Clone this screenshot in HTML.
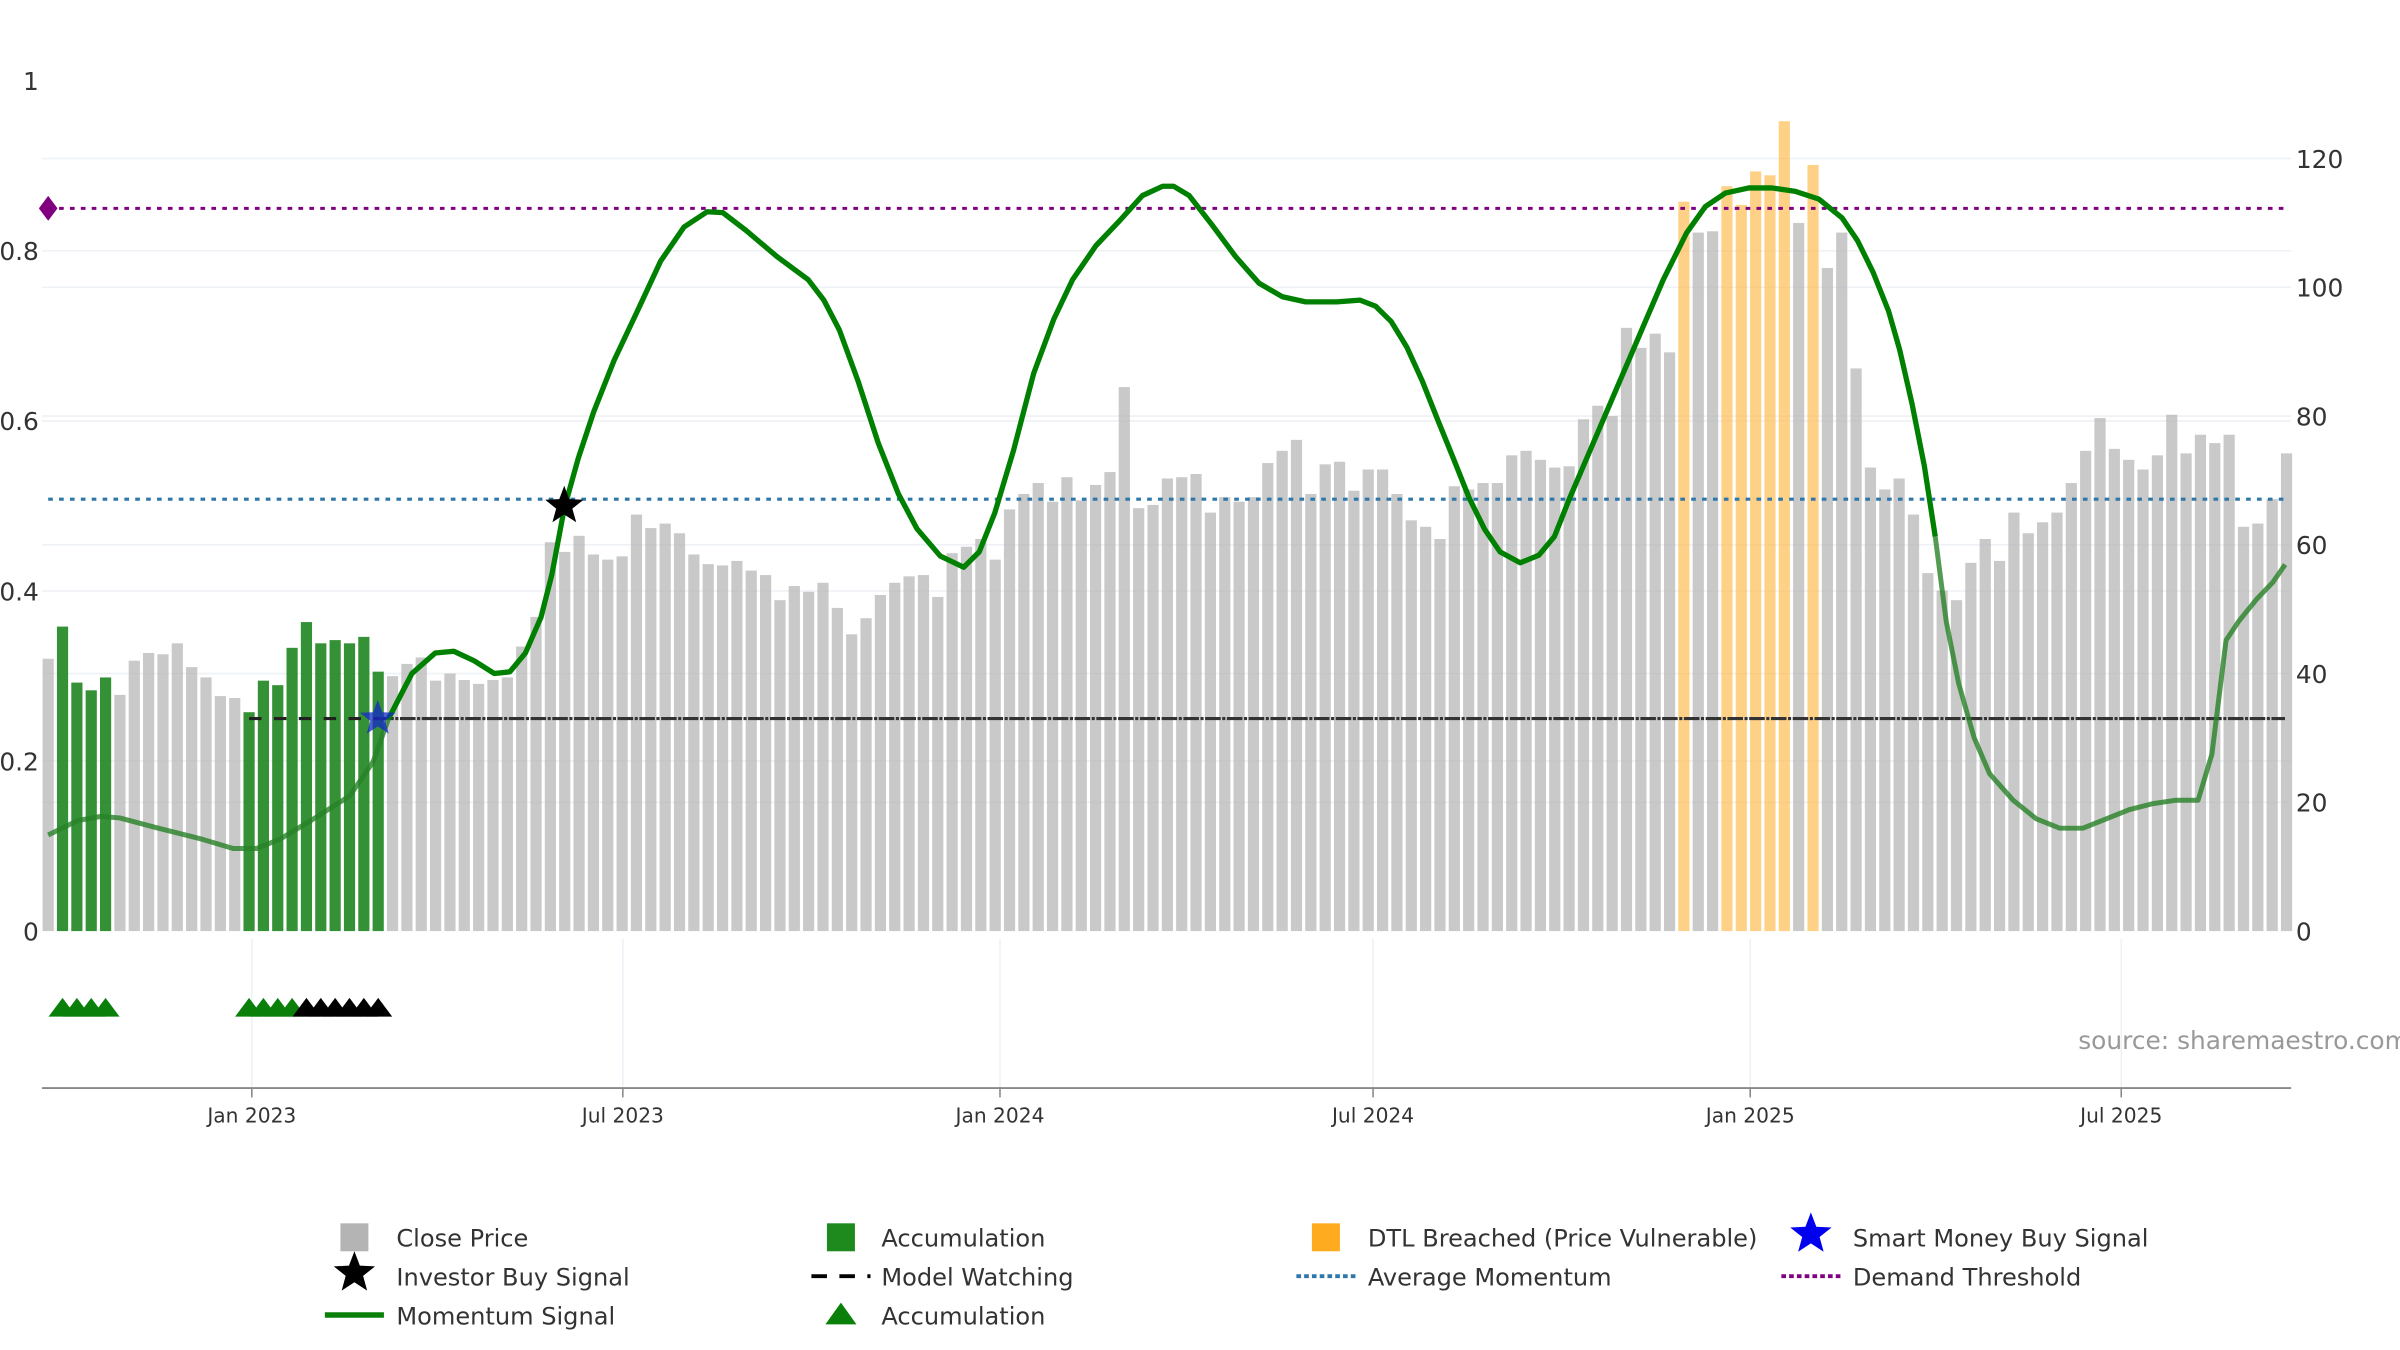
<!DOCTYPE html>
<html><head><meta charset="utf-8"><style>
html,body{margin:0;padding:0;background:#fff;width:2400px;height:1350px;overflow:hidden}
svg{display:block;font-family:"DejaVu Sans","Liberation Sans",sans-serif}
</style></head><body>
<svg id="chart" width="2400" height="1350" viewBox="0 0 1544 868.5" preserveAspectRatio="none" xmlns="http://www.w3.org/2000/svg">
<g id="grid"></g>
<g id="bars"></g>
<g id="hlines"></g>
<g id="line"></g>
<g id="marks"></g>
<g id="axes"></g>
<text x="1337" y="675" font-size="16" fill="#999">source: sharemaestro.com</text>
<g id="legend"></g>
</svg>
<script>
const closePrices=[42.3,47.3,38.6,37.4,39.4,36.7,42,43.2,43,44.7,41,39.4,36.5,36.2,34,38.9,38.2,44,48,44.7,45.2,44.7,45.7,40.3,39.6,41.5,42.5,38.9,40,39,38.4,39,39.4,44.2,48.8,60.4,58.9,61.4,58.5,57.7,58.2,64.7,62.6,63.3,61.8,58.5,57,56.8,57.5,56,55.3,51.4,53.6,52.7,54.1,50.2,46.1,48.6,52.2,54.1,55.1,55.3,51.9,58.7,59.7,60.9,57.7,65.5,67.9,69.6,66.7,70.5,66.9,69.3,71.3,84.5,65.7,66.2,70.3,70.5,71,65,67.4,66.7,67.4,72.7,74.6,76.3,67.9,72.5,72.9,68.4,71.7,71.7,67.9,63.8,62.8,60.9,69.1,68.6,69.6,69.6,73.9,74.6,73.2,72,72.2,79.5,81.6,80,93.7,90.6,92.8,89.9,113.3,108.5,108.7,115.7,112.8,118,117.4,125.8,110,119,103,108.5,87.4,72,68.6,70.3,64.7,55.6,52.9,51.4,57.2,60.9,57.5,65,61.8,63.5,65,69.6,74.6,79.7,74.9,73.2,71.7,73.9,80.2,74.2,77.1,75.8,77.1,62.8,63.3,67.1,74.2];
const accumulationWeeks=[1,2,3,4,14,15,16,17,18,19,20,21,22,23];
const dtlWeeks=[114,117,118,119,120,121,123];
const momentumWeek=[0,2.06,3.68,4.98,7.48,10.73,12.89,14.52,16.14,18.31,21.02,22.64,23.73,25.35,26.97,28.28,29.68,31.09,32.17,33.26,34.34,35.1,35.97,36.94,38.03,39.43,41.06,42.68,44.31,45.93,47.02,48.64,50.81,52.98,54.06,55.14,56.44,57.85,59.26,60.56,62.18,63.81,64.89,65.97,67.27,68.68,70.09,71.39,73.02,74.64,76.27,77.68,78.43,79.52,81.14,82.77,84.39,86.02,87.64,89.81,91.43,92.52,93.6,94.68,95.77,96.85,97.93,99.02,100.1,101.18,102.59,103.89,104.98,106.06,107.68,109.31,110.93,112.56,114.18,115.48,116.89,118.52,120.14,121.77,123.39,125.02,126.1,127.18,128.27,129.03,129.9,130.76,131.52,132.28,133.15,134.23,135.31,136.94,138.56,140.19,141.81,143.44,145.06,146.69,148.31,149.83,150.8,151.78,152.65,153.95,155.03,155.9];
const momentumVal=[0.113,0.130,0.135,0.133,0.122,0.108,0.097,0.097,0.108,0.130,0.159,0.199,0.250,0.303,0.327,0.329,0.318,0.303,0.305,0.327,0.369,0.419,0.497,0.556,0.611,0.671,0.729,0.788,0.828,0.846,0.845,0.824,0.793,0.766,0.742,0.707,0.647,0.574,0.514,0.473,0.441,0.428,0.446,0.492,0.565,0.656,0.720,0.766,0.806,0.835,0.865,0.876,0.876,0.865,0.830,0.793,0.762,0.746,0.740,0.740,0.742,0.735,0.717,0.687,0.647,0.601,0.556,0.510,0.473,0.446,0.433,0.442,0.464,0.510,0.574,0.638,0.702,0.766,0.821,0.852,0.868,0.874,0.874,0.870,0.861,0.839,0.812,0.775,0.729,0.684,0.620,0.547,0.464,0.364,0.291,0.227,0.185,0.154,0.132,0.121,0.121,0.132,0.143,0.150,0.154,0.154,0.208,0.342,0.364,0.391,0.410,0.431];
const demandThreshold=0.85;
const averageMomentum=0.508;
const modelWatching=0.25;
const investorBuy=[35.97,0.50];
const smartMoneyBuy=[22.97,0.25];
const greenTriangleWeeks=[1,2,3,4,14,15,16,17];
const blackTriangleWeeks=[18,19,20,21,22,23];
const leftTicks=[0,0.2,0.4,0.6,0.8,1];
const leftTickLabels=["0","0.2","0.4","0.6","0.8","1"];
const rightTicks=[0,20,40,60,80,100,120];
const monthLabels=["Jan 2023","Jul 2023","Jan 2024","Jul 2024","Jan 2025","Jul 2025"];
const monthDays=[0,181,365,547,731,912];

const NS="http://www.w3.org/2000/svg";
const xW=w=>31+w*9.2308;
const xD=d=>162+d*1.3187;
const yL=v=>599-v*547;
const yR=v=>599-v*(497/120);
function mk(tag,attrs,parent){const e=document.createElementNS(NS,tag);for(const k in attrs)e.setAttribute(k,attrs[k]);parent.appendChild(e);return e;}
const G=id=>document.getElementById(id);

// grid
rightTicks.forEach(t=>{if(t>0){const l=mk('line',{x1:27,x2:1474,y1:yR(t),y2:yR(t),stroke:'#eef1f5','stroke-width':1},G('grid'));

}});
leftTicks.forEach(t=>{if(t>0&&t<1){const l=mk('line',{x1:27,x2:1474,y1:yL(t),y2:yL(t),stroke:'#eef1f5','stroke-width':1},G('grid'));

}});
monthDays.forEach(d=>{const l=mk('line',{x1:xD(d),x2:xD(d),y1:604,y2:700,stroke:'#eef1f5','stroke-width':1},G('grid'));

});

// bars
closePrices.forEach((v,i)=>{
  let fill='rgba(180,180,180,0.72)';
  if(accumulationWeeks.includes(i))fill='rgba(25,130,25,0.88)';
  if(dtlWeeks.includes(i))fill='rgba(255,185,70,0.65)';
  const r=mk('rect',{x:xW(i)-3.6,y:yR(v),width:7.2,height:yR(0)-yR(v),fill:fill},G('bars'));
  
  
});

// reference lines
let h=mk('line',{x1:31,x2:1470,y1:yL(demandThreshold),y2:yL(demandThreshold),stroke:'#800080','stroke-width':2,'stroke-dasharray':'3,4'},G('hlines'));


let dm=mk('path',{d:`M${31-6},${yL(demandThreshold)} l6,-8 l6,8 l-6,8 z`,fill:'#800080'},G('hlines'));


h=mk('line',{x1:31,x2:1470,y1:yL(averageMomentum),y2:yL(averageMomentum),stroke:'#2f77a8','stroke-width':2,'stroke-dasharray':'3,4'},G('hlines'));


h=mk('line',{x1:xW(14),x2:xW(23),y1:yL(modelWatching),y2:yL(modelWatching),stroke:'#222','stroke-width':2,'stroke-dasharray':'8,8'},G('hlines'));


h=mk('line',{x1:xW(23),x2:1470,y1:yL(modelWatching),y2:yL(modelWatching),stroke:'#333','stroke-width':2,'stroke-dasharray':'10,1,2,1'},G('hlines'));



// momentum line in segments
function seg(a,b,color,w,name){let d='';for(let i=a;i<=b;i++)d+=(i===a?'M':'L')+xW(momentumWeek[i]).toFixed(1)+','+yL(momentumVal[i]).toFixed(1);
 const p=mk('path',{d:d,fill:'none',stroke:color,'stroke-width':w,'stroke-linejoin':'round'},G('line'));
 
 }
const n=momentumVal.length;
let s1=momentumWeek.findIndex(w=>w>=23.7);
let s2=momentumWeek.findIndex(w=>w>=131.5);
seg(0,s1,'rgba(40,130,40,0.8)',3.2,'momentum-line-early');
seg(s1,s2,'#008000',3.4,'momentum-line-main');
seg(s2,n-1,'rgba(40,130,40,0.8)',3.2,'momentum-line-late');

// markers
function star(cx,cy,r,fill,name,parent){let d='';for(let k=0;k<10;k++){const a=-Math.PI/2+k*Math.PI/5;const rr=k%2?r*0.42:r;d+=(k?'L':'M')+(cx+rr*Math.cos(a)).toFixed(1)+','+(cy+rr*Math.sin(a)).toFixed(1);}
 const p=mk('path',{d:d+'Z',fill:fill},parent);
 
 return p;}
star(xW(investorBuy[0]),yL(investorBuy[1]),13,'#000','investor-buy-star',G('marks'));
star(xW(smartMoneyBuy[0]),yL(smartMoneyBuy[1]),12,'rgba(20,40,200,0.75)','smart-money-star',G('marks'));
function tri(x,y,fill,name){const p=mk('path',{d:`M${x-9},${y+6} L${x},${y-6} L${x+9},${y+6} Z`,fill:fill},G('marks'));
 
 }
greenTriangleWeeks.forEach(w=>tri(xW(w),648,'#0a800a','accumulation-triangle'));
blackTriangleWeeks.forEach(w=>tri(xW(w),648,'#000','watch-triangle'));

// axes
let ax=mk('line',{x1:27,x2:1474,y1:700,y2:700,stroke:'#888','stroke-width':1.2},G('axes'));


monthDays.forEach((d,i)=>{
 const t=mk('line',{x1:xD(d),x2:xD(d),y1:700,y2:706,stroke:'#888'},G('axes'));
 
 
 const tx=mk('text',{x:xD(d),y:722,'font-size':13,fill:'#333','text-anchor':'middle'},G('axes'));tx.textContent=monthLabels[i];
 
 
});
leftTicks.forEach((t,i)=>{const tx=mk('text',{x:25,y:yL(t)+6,'font-size':16,fill:'#333','text-anchor':'end'},G('axes'));tx.textContent=leftTickLabels[i];
 
 });
rightTicks.forEach(t=>{const tx=mk('text',{x:1477,y:yR(t)+6,'font-size':16,fill:'#333'},G('axes'));tx.textContent=String(t);
 
 });

// legend
const L=G('legend');
function ltext(x,y,s){const t=mk('text',{x:x,y:y,'font-size':15.5,fill:'#333'},L);t.textContent=s;
 
 }
function lrect(cx,cy,fill){const r=mk('rect',{x:cx-9,y:cy-9,width:18,height:18,fill:fill},L);
 
 }
function lline(cx,cy,color,dash,w){const l=mk('line',{x1:cx-19,x2:cx+19,y1:cy,y2:cy,stroke:color,'stroke-width':w,'stroke-dasharray':dash},L);
 
 }
const r1=796,r2=821,r3=846;
lrect(228,r1,'#b4b4b4');ltext(255,r1+6,'Close Price');
lrect(541,r1,'#1e8a1e');ltext(567,r1+6,'Accumulation');
lrect(853,r1,'#ffab1f');ltext(880,r1+6,'DTL Breached (Price Vulnerable)');
star(1165,r1-2,14,'#0000ee','legend-smart-money',L);ltext(1192,r1+6,'Smart Money Buy Signal');
star(228,r2-2,14,'#000','legend-investor-buy',L);ltext(255,r2+6,'Investor Buy Signal');
lline(541,r2,'#000','10,8',2.5);ltext(567,r2+6,'Model Watching');
lline(853,r2,'#2f77a8','3,2',2.5);ltext(880,r2+6,'Average Momentum');
lline(1165,r2,'#800080','3,2',2.5);ltext(1192,r2+6,'Demand Threshold');
lline(228,r3,'#0a800a','',3.5);ltext(255,r3+6,'Momentum Signal');
const lt=mk('path',{d:`M531,${r3+6} L541,${r3-8} L551,${r3+6} Z`,fill:'#0a800a'},L);


ltext(567,r3+6,'Accumulation');
</script>
</body></html>
